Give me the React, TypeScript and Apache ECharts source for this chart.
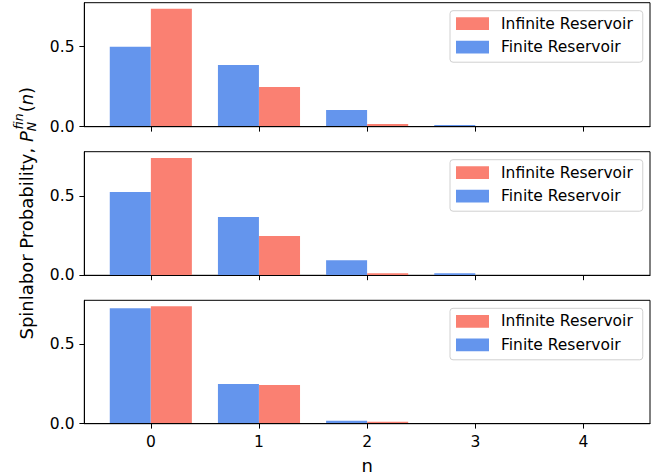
import React, { useEffect, useRef } from "react";
import * as echarts from "echarts";

const categories = [0, 1, 2, 3, 4];
const finite1 = [0.5, 0.385, 0.104, 0.01, 0.002];
const infinite1 = [0.737, 0.248, 0.017, 0.0005, 0.00001];
const finite2 = [0.525, 0.367, 0.095, 0.013, 0.0005];
const infinite2 = [0.739, 0.248, 0.013, 0.0005, 0.00001];
const finite3 = [0.726, 0.249, 0.018, 0.0008, 0.00001];
const infinite3 = [0.739, 0.244, 0.013, 0.0004, 0.00001];
const yMaxes = [0.775, 0.779, 0.776];
const yTicks = [0, 0.5];
const xTicks = [0, 1, 2, 3, 4];
const seriesNames = ["Infinite Reservoir", "Finite Reservoir"];
const yLabelMain = "Spinlabor Probability, ";
const xLabel = "n";

const BLUE = "#6495ED";
const RED = "#FA8072";
const FONT = "DejaVu Sans";
const FS = 15.5;
const LFS = 18;

export default function App() {
  const ref = useRef<HTMLDivElement>(null);
  useEffect(() => {
    if (!ref.current) return;
    const chart = echarts.init(ref.current, undefined, { renderer: "svg" });
    const panels = [
      { fin: finite1, inf: infinite1 },
      { fin: finite2, inf: infinite2 },
      { fin: finite3, inf: infinite3 },
    ];
    const tops = [2.7, 151.7, 300.3];
    const heights = [124, 123.6, 123.4];
    const left = 84.3;
    const width = 565.7;
    const half = 0.19;
    const barPx = 41;

    const grid = tops.map((t, i) => ({
      left,
      top: t,
      width,
      height: heights[i],
      show: true,
      borderColor: "#000",
      borderWidth: 1,
      backgroundColor: "transparent",
      containLabel: false,
    }));

    const xAxis = tops.map((_, i) => ({
      type: "value",
      gridIndex: i,
      min: -0.615,
      max: 4.615,
      z: 5,
      axisLine: { show: true, onZero: false, lineStyle: { color: "#000", width: 1 } },
      axisTick: { show: true, customValues: xTicks, length: 4.9, lineStyle: { color: "#000", width: 1 } },
      axisLabel: {
        show: i === 2,
        customValues: xTicks,
        margin: 10.5,
        color: "#000",
        fontSize: FS,
        fontFamily: FONT,
        formatter: (v: number) => String(v),
      },
      splitLine: { show: false },
      name: i === 2 ? xLabel : "",
      nameLocation: "middle",
      nameGap: 33,
      nameTextStyle: { color: "#000", fontSize: LFS, fontFamily: FONT },
    }));

    const yAxis = tops.map((_, i) => ({
      type: "value",
      gridIndex: i,
      min: 0,
      max: yMaxes[i],
      z: 5,
      axisLine: { show: true, onZero: false, lineStyle: { color: "#000", width: 1 } },
      axisTick: { show: true, customValues: yTicks, length: 4.9, lineStyle: { color: "#000", width: 1 } },
      axisLabel: {
        show: true,
        customValues: yTicks,
        margin: 9.8,
        color: "#000",
        fontSize: FS,
        fontFamily: FONT,
        formatter: (v: number) => v.toFixed(1),
      },
      splitLine: { show: false },
    }));

    const series: any[] = [];
    panels.forEach((p, i) => {
      series.push({
        type: "bar",
        name: seriesNames[1],
        xAxisIndex: i,
        yAxisIndex: i,
        barWidth: barPx,
        barGap: "-100%",
        itemStyle: { color: BLUE },
        data: categories.map((c, k) => [c - half, p.fin[k]]),
      });
      series.push({
        type: "bar",
        name: seriesNames[0],
        xAxisIndex: i,
        yAxisIndex: i,
        barWidth: barPx,
        barGap: "-100%",
        itemStyle: { color: RED },
        data: categories.map((c, k) => [c + half, p.inf[k]]),
      });
    });

    const legend = tops.map((t) => ({
      show: true,
      selectedMode: false,
      orient: "vertical",
      left: 450,
      top: t + 8,
      data: seriesNames,
      icon: "rect",
      itemWidth: 33,
      itemHeight: 12.7,
      itemGap: 6.5,
      padding: [4.5, 10, 6.5, 6],
      backgroundColor: "rgba(255,255,255,0.8)",
      borderColor: "#d0d0d0",
      borderWidth: 1,
      borderRadius: 3,
      textStyle: { color: "#000", fontSize: FS, fontFamily: FONT, padding: [0, 0, 0, 7], lineHeight: 17 },
      itemStyle: { borderWidth: 0 },
    }));

    const canvas = document.createElement("canvas");
    const ctx = canvas.getContext("2d")!;
    const measure = (txt: string, size: number, italic: boolean) => {
      ctx.font = `${italic ? "italic " : ""}${size}px "${FONT}"`;
      return ctx.measureText(txt).width;
    };
    const SS = 12.6;
    const wMain = measure(yLabelMain, LFS, false);
    const wP = measure("P", LFS, true);
    const wN = measure("N", SS, true);
    const wFin = measure("fin", SS, true);
    const wS = Math.max(wN, wFin + 1.8);
    const wLp = measure("(", LFS, false);
    const wn = measure("n", LFS, true);
    const wRp = measure(")", LFS, false);
    const total = wMain + wP + wS + 1 + wLp + wn + wRp;
    const x0 = -total / 2;
    const mk = (txt: string, x: number, y: number, size: number, italic: boolean) => ({
      type: "text",
      x,
      y,
      style: {
        text: txt,
        fontSize: size,
        fontFamily: FONT,
        fontStyle: italic ? "italic" : "normal",
        fill: "#000",
        textAlign: "left",
        textVerticalAlign: "middle",
        align: "left",
        verticalAlign: "middle",
      },
    });
    let cx = x0;
    const parts: any[] = [];
    parts.push(mk(yLabelMain, cx, 0, LFS, false));
    cx += wMain;
    parts.push(mk("P", cx, 0, LFS, true));
    cx += wP;
    parts.push(mk("N", cx, 5, SS, true));
    parts.push(mk("fin", cx + 1.8, -7.5, SS, true));
    cx += wS + 1;
    parts.push(mk("(", cx, 0, LFS, false));
    cx += wLp;
    parts.push(mk("n", cx, 0, LFS, true));
    cx += wn;
    parts.push(mk(")", cx, 0, LFS, false));

    const centerY = (tops[0] + tops[2] + heights[2]) / 2;

    chart.setOption({
      animation: false,
      backgroundColor: "#fff",
      grid,
      xAxis,
      yAxis,
      legend,
      series,
      graphic: [
        {
          type: "group",
          x: 26,
          y: centerY,
          rotation: Math.PI / 2,
          children: parts,
        },
      ],
    });
    return () => chart.dispose();
  }, []);
  return <div ref={ref} style={{ position: "absolute", left: 0, top: 0, width: 668, height: 476 }} />;
}
